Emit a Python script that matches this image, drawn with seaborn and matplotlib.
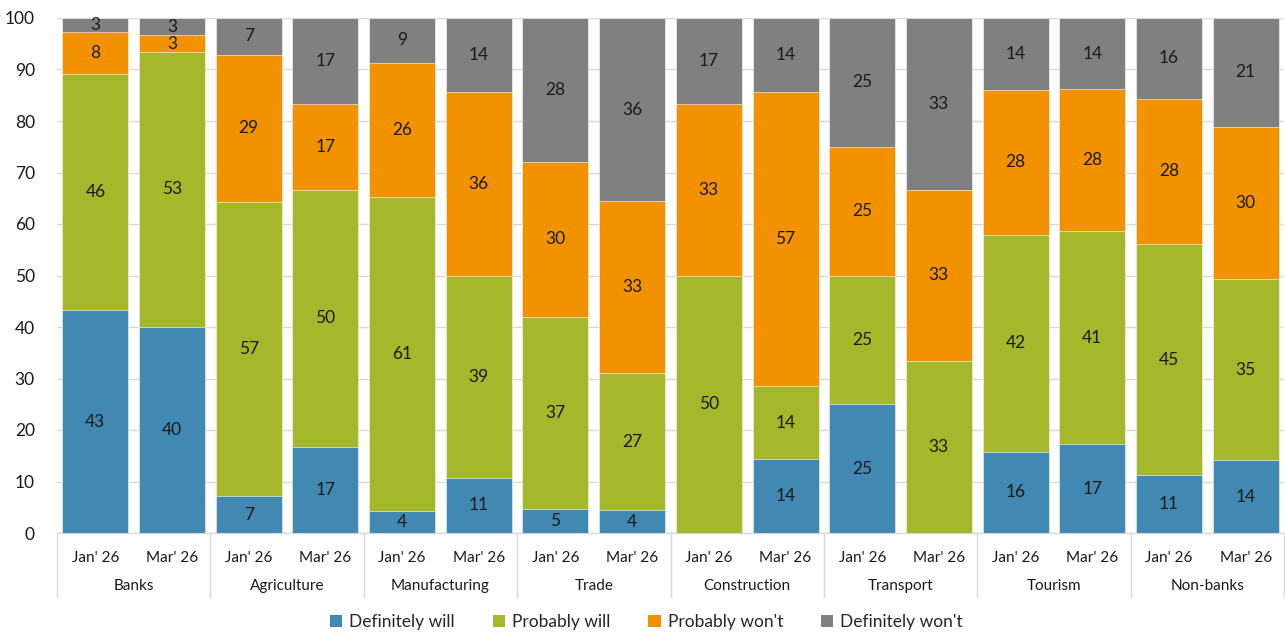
import numpy as np
import pandas as pd
import seaborn as sns
import matplotlib.pyplot as plt
import matplotlib.transforms as mtransforms
from matplotlib.patches import Patch

sectors = ["Banks", "Agriculture", "Manufacturing", "Trade",
           "Construction", "Transport", "Tourism", "Non-banks"]
periods = ["Jan' 26", "Mar' 26"]

series_names = ["Definitely will", "Probably will", "Probably won't", "Definitely won't"]

# shares of respondents (%), two survey rounds per sector
definitely_will = [43.2, 40.0, 7.1, 16.7, 4.3, 10.7, 4.7, 4.4,
                   0.0, 14.3, 25.0, 0.0, 15.8, 17.2, 11.2, 14.1]
probably_will = [45.9, 53.3, 57.1, 50.0, 60.9, 39.3, 37.2, 26.7,
                 50.0, 14.3, 25.0, 33.3, 42.1, 41.4, 44.9, 35.2]
probably_wont = [8.1, 3.3, 28.6, 16.7, 26.1, 35.7, 30.2, 33.3,
                 33.3, 57.1, 25.0, 33.3, 28.1, 27.6, 28.1, 29.6]
definitely_wont = [2.7, 3.3, 7.1, 16.7, 8.7, 14.3, 27.9, 35.6,
                   16.7, 14.3, 25.0, 33.3, 14.0, 13.8, 15.7, 21.1]

colors = ["#4189B3", "#A5B72A", "#F39200", "#808080"]

sns.set_theme(style="white")
plt.rcParams["font.family"] = ["Lato", "DejaVu Sans"]

keys = [f"{s}|{p}" for s in sectors for p in periods]
values = np.array([definitely_will, probably_will, probably_wont, definitely_wont], dtype=float)
values = values / values.sum(axis=0) * 100  # 100% stacked

df = pd.DataFrame(values.T, columns=series_names)
df["key"] = keys
cum = df[series_names].cumsum(axis=1)

fig = plt.figure(figsize=(12.85, 6.37), dpi=100)
ax = fig.add_axes([57 / 1285, 1 - 533 / 637, 1227 / 1285, (533 - 18) / 637])

# draw cumulative totals from the top series down so the stacks overlap correctly
for name, col in reversed(list(zip(series_names, colors))):
    sns.barplot(x=df["key"], y=cum[name], order=keys, color=col, width=0.86,
                saturation=1, edgecolor="white", linewidth=0.4, ax=ax, zorder=3)

# segment value labels
for i in range(len(keys)):
    bottom = 0.0
    for j, name in enumerate(series_names):
        v = df.loc[i, name]
        if round(v) > 0:
            ax.text(i, bottom + v / 2, f"{v:.0f}", ha="center", va="center",
                    fontsize=12.5, color="#1a1a1a", zorder=5)
        bottom += v

ax.set_xlim(-0.5, len(keys) - 0.5)
ax.set_ylim(0, 100)
ax.set_yticks(np.arange(0, 101, 10))
ax.tick_params(axis="y", labelsize=12.5, length=0, pad=16, labelcolor="#1a1a1a")
ax.yaxis.grid(True, color="#D9D9D9", linewidth=1.0, zorder=0)
ax.set_axisbelow(True)
ax.set_xticks(range(len(keys)))
ax.set_xticklabels([p for s in sectors for p in periods])
ax.tick_params(axis="x", labelsize=11, length=0, pad=13, labelcolor="#1a1a1a")
ax.set_xlabel("")
ax.set_ylabel("")

for side in ["left", "right", "top"]:
    ax.spines[side].set_visible(False)
ax.spines["bottom"].set_color("#D9D9D9")
ax.spines["bottom"].set_linewidth(1.0)

# sector group labels and separators below the axis
trans = mtransforms.blended_transform_factory(ax.transData, ax.transAxes)
sep_bottom = -(597 - 533) / 515
for k in range(len(sectors) + 1):
    xpos = 2 * k - 0.5
    ax.plot([xpos, xpos], [0, sep_bottom], transform=trans, color="#D9D9D9",
            linewidth=1.0, clip_on=False, zorder=1)
for k, s in enumerate(sectors):
    ax.text(2 * k + 0.5, -(586 - 533) / 515, s, transform=trans, ha="center",
            va="center", fontsize=11, color="#1a1a1a")

handles = [Patch(facecolor=c, edgecolor="none") for c in colors]
fig.legend(handles, series_names, loc="center", bbox_to_anchor=(0.503, 1 - 622 / 637),
           ncol=4, frameon=False, fontsize=12.5, handlelength=0.7, handleheight=0.7,
           handletextpad=0.4, columnspacing=2.2)

fig.savefig("out.png", dpi=100)
